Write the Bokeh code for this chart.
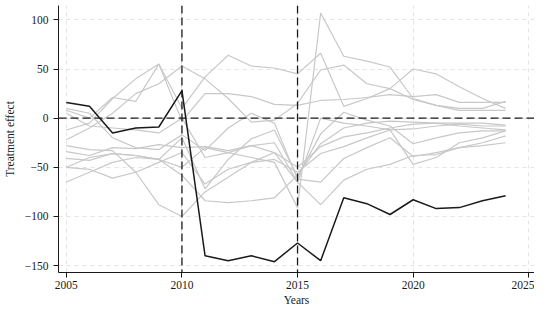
from bokeh.plotting import figure
from bokeh.models import Span, FixedTicker, Range1d
from bokeh.embed import file_html
from bokeh.resources import INLINE

years = list(range(2005, 2025))

treated = [16, 12, -15, -10, -9, 28, -140, -145, -140, -146, -127, -145, -81, -87, -98, -83, -92, -91, -84, -79]

placebo_1 = [-50, -40, -36, -38, -42, -50, -30, -35, -40, -45, -91, 107, 63, 58, 52, 20, 13, 8, 8, 8]
placebo_2 = [8, 0, 21, 17, 55, 10, 42, 64, 53, 51, 45, 66, 12, 20, 30, 50, 45, 32, 20, 10]
placebo_3 = [-12, -5, 20, 40, 55, -3, 25, 25, 22, 14, 13, 18, 19, 21, 24, 22, 24, 16, 16, 16]
placebo_4 = [-22, -10, 5, 25, 35, 53, 40, 20, -4, -2, 15, 49, 54, 35, 30, 19, 13, 10, 10, 17]
placebo_5 = [-28, -32, -33, -55, -88, -100, -75, -60, -45, -35, -65, -88, -63, -52, -47, -38, -37, -30, -25, -18]
placebo_6 = [-65, -55, -45, -40, -42, -58, -84, -86, -84, -81, -58, -26, -10, -5, -3, -4, -5, -8, -10, -12]
placebo_7 = [-50, -52, -61, -55, -45, -35, -67, -52, -45, -42, -55, -36, -29, -20, -12, -11, -8, -6, -8, -8]
placebo_8 = [-41, -43, -36, -38, -42, -20, -72, -42, -21, -12, -60, -16, 6, -2, -8, -26, -20, -15, -13, -13]
placebo_9 = [-34, -38, -30, -31, -27, -30, -29, -33, -28, -35, -50, -29, -19, -15, -10, -6, -5, -5, -5, -7]
placebo_10 = [10, 5, -20, -30, -32, -17, -33, -10, 5, -5, -62, -65, -41, -30, -20, -39, -35, -30, -28, -25]
placebo_11 = [5, -8, -10, -12, -15, 0, -40, -35, -28, -25, -65, 0, -5, -8, -12, -47, -40, -25, -20, -13]

placebos = [placebo_1, placebo_2, placebo_3, placebo_4, placebo_5, placebo_6,
            placebo_7, placebo_8, placebo_9, placebo_10, placebo_11]

event_years = [2010, 2015]
x_ticks = [2005, 2010, 2015, 2020, 2025]
y_ticks = [-150, -100, -50, 0, 50, 100]

FONT = "Liberation Serif"

p = figure(width=534, height=308, output_backend="svg", toolbar_location=None,
           x_range=Range1d(2004.66, 2025.25), y_range=Range1d(-157, 114.6),
           min_border_left=54, min_border_right=0, min_border_top=5, min_border_bottom=0,
           background_fill_color="white", border_fill_color="white")
p.outline_line_color = None

for series in placebos:
    p.line(years, series, line_color="#c8c8c8", line_width=1.2)

p.line(years, treated, line_color="#1a1a1a", line_width=1.5)

for yr in event_years:
    p.add_layout(Span(location=yr, dimension="height", line_color="#1a1a1a",
                      line_dash="8 4", line_width=1.3))
p.add_layout(Span(location=0, dimension="width", line_color="#1a1a1a",
                  line_dash="8 4", line_width=1.3))

p.xaxis.ticker = FixedTicker(ticks=x_ticks)
p.yaxis.ticker = FixedTicker(ticks=y_ticks)

p.xgrid.grid_line_color = "#e4e4e4"
p.ygrid.grid_line_color = "#e4e4e4"
p.xgrid.grid_line_dash = "4 4"
p.ygrid.grid_line_dash = "4 4"

for ax in (p.xaxis[0], p.yaxis[0]):
    ax.axis_line_color = "#1a1a1a"
    ax.major_tick_line_color = "#1a1a1a"
    ax.major_tick_out = 5
    ax.major_tick_in = 0
    ax.minor_tick_line_color = None
    ax.major_label_text_font = FONT
    ax.major_label_text_font_size = "11.5px"
    ax.major_label_text_color = "#1a1a1a"
    ax.axis_label_text_font = FONT
    ax.axis_label_text_font_size = "11.5px"
    ax.axis_label_text_font_style = "normal"
    ax.axis_label_text_color = "#1a1a1a"

p.xaxis.axis_label = "Years"
p.yaxis.axis_label = "Treatment effect"
p.xaxis.major_label_standoff = 3
p.xaxis.axis_label_standoff = 2
p.yaxis.major_label_standoff = 5
p.yaxis.axis_label_standoff = 6

open("out.html", "w").write(file_html(p, INLINE))
